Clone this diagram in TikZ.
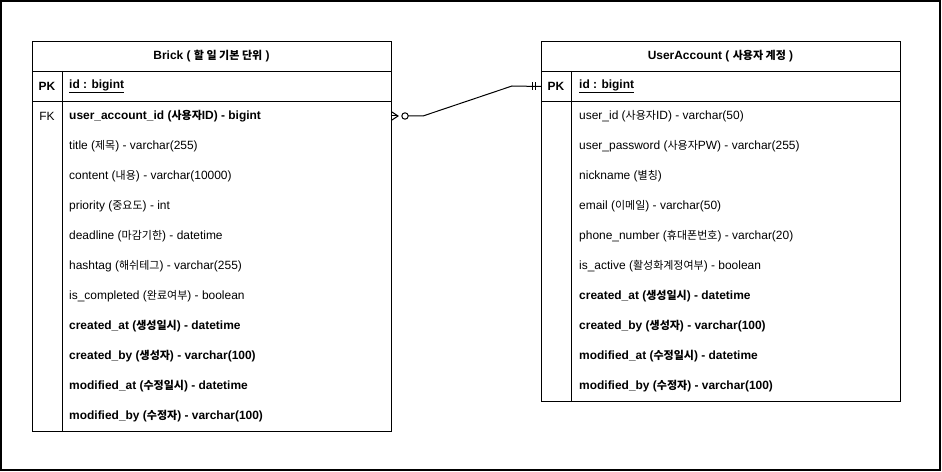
\documentclass[tikz,border=0pt]{standalone}
\usepackage{fontspec}
\setmainfont{Liberation Sans}
\newfontfamily\kr{Noto Sans CJK KR}[Scale=0.92]
\newcommand{\K}[1]{{\kr #1}}
\begin{document}
\begin{tikzpicture}[x=1bp,y=-1bp,
  every node/.style={font=\fontsize{12}{14}\selectfont},
  tbox/.style={draw, line width=1bp, anchor=north west, inner sep=0, minimum width=359bp},
  hdr/.style={font=\fontsize{12}{14}\selectfont\bfseries},
  fld/.style={anchor=west, inner sep=0},
  key/.style={anchor=center, inner sep=0},
  conn/.style={line width=1bp}
]
\useasboundingbox (0,0) rectangle (942,472);
\draw[line width=1.4bp] (1,1) rectangle (940,470);

% ---------------- Brick ----------------
\node[tbox, minimum height=30bp] (bH) at (32,41) {};
\node[hdr] (bHt) at (211.5,56) {Brick ( \K{할 일 기본 단위} )};
\node[tbox, minimum height=30bp] (bPK) at (32,71) {};
\node[tbox, minimum height=330bp] (bB) at (32,101) {};
\draw[line width=1bp] (62,71) -- (62,431);
\node[key, font=\fontsize{12}{14}\selectfont\bfseries] (bpk) at (47,86) {PK};
\node[fld, font=\fontsize{12}{14}\selectfont\bfseries] (bid) at (69,86) {\underline{id : bigint}};
\node[key] (bfkl) at (47,116) {FK};
\node[fld, font=\fontsize{12}{14}\selectfont\bfseries] (b1) at (69,116) {user\_account\_id (\K{사용자}ID) - bigint};
\node[fld] (b2) at (69,146) {title (\K{제목}) - varchar(255)};
\node[fld] (b3) at (69,176) {content (\K{내용}) - varchar(10000)};
\node[fld] (b4) at (69,206) {priority (\K{중요도}) - int};
\node[fld] (b5) at (69,236) {deadline (\K{마감기한}) - datetime};
\node[fld] (b6) at (69,266) {hashtag (\K{해쉬테그}) - varchar(255)};
\node[fld] (b7) at (69,296) {is\_completed (\K{완료여부}) - boolean};
\node[fld, font=\fontsize{12}{14}\selectfont\bfseries] (b8) at (69,326) {created\_at (\K{생성일시}) - datetime};
\node[fld, font=\fontsize{12}{14}\selectfont\bfseries] (b9) at (69,356) {created\_by (\K{생성자}) - varchar(100)};
\node[fld, font=\fontsize{12}{14}\selectfont\bfseries] (b10) at (69,386) {modified\_at (\K{수정일시}) - datetime};
\node[fld, font=\fontsize{12}{14}\selectfont\bfseries] (b11) at (69,416) {modified\_by (\K{수정자}) - varchar(100)};

% ---------------- UserAccount ----------------
\node[tbox, minimum height=30bp] (uH) at (541,41) {};
\node[hdr] (uHt) at (720.5,56) {UserAccount ( \K{사용자 계정} )};
\node[tbox, minimum height=30bp] (uPK) at (541,71) {};
\node[tbox, minimum height=300bp] (uB) at (541,101) {};
\draw[line width=1bp] (571,71) -- (571,401);
\node[key, font=\fontsize{12}{14}\selectfont\bfseries] (upkl) at (556,86) {PK};
\node[fld, font=\fontsize{12}{14}\selectfont\bfseries] (uid) at (579,86) {\underline{id : bigint}};
\node[fld] (u1) at (579,116) {user\_id (\K{사용자}ID) - varchar(50)};
\node[fld] (u2) at (579,146) {user\_password (\K{사용자}PW) - varchar(255)};
\node[fld] (u3) at (579,176) {nickname (\K{별칭})};
\node[fld] (u4) at (579,206) {email (\K{이메일}) - varchar(50)};
\node[fld] (u5) at (579,236) {phone\_number (\K{휴대폰번호}) - varchar(20)};
\node[fld] (u6) at (579,266) {is\_active (\K{활성화계정여부}) - boolean};
\node[fld, font=\fontsize{12}{14}\selectfont\bfseries] (u7) at (579,296) {created\_at (\K{생성일시}) - datetime};
\node[fld, font=\fontsize{12}{14}\selectfont\bfseries] (u8) at (579,326) {created\_by (\K{생성자}) - varchar(100)};
\node[fld, font=\fontsize{12}{14}\selectfont\bfseries] (u9) at (579,356) {modified\_at (\K{수정일시}) - datetime};
\node[fld, font=\fontsize{12}{14}\selectfont\bfseries] (u10) at (579,386) {modified\_by (\K{수정자}) - varchar(100)};

% ---------------- Connector ----------------
\coordinate (bEnd) at (bB.east |- b1);
\coordinate (uEnd) at (uPK.west);
\draw[conn] (bEnd) ++(15,0) coordinate (cA) -- ++(16,0) coordinate (cB) -- (512,86) coordinate (cC) -- (uEnd);
% zero-or-many (crow's foot + circle)
\draw[conn] (bEnd) ++(0,-4) -- ++(6,4) -- ++(-6,4);
\draw[conn] (bEnd) -- ++(6,0);
\draw[conn, fill=white] (bEnd) ++(13,0) circle (3.2);
% one-and-only-one
\draw[conn] (uEnd) ++(-9,-4) -- ++(0,8);
\draw[conn] (uEnd) ++(-6,-4) -- ++(0,8);
\end{tikzpicture}
\end{document}
